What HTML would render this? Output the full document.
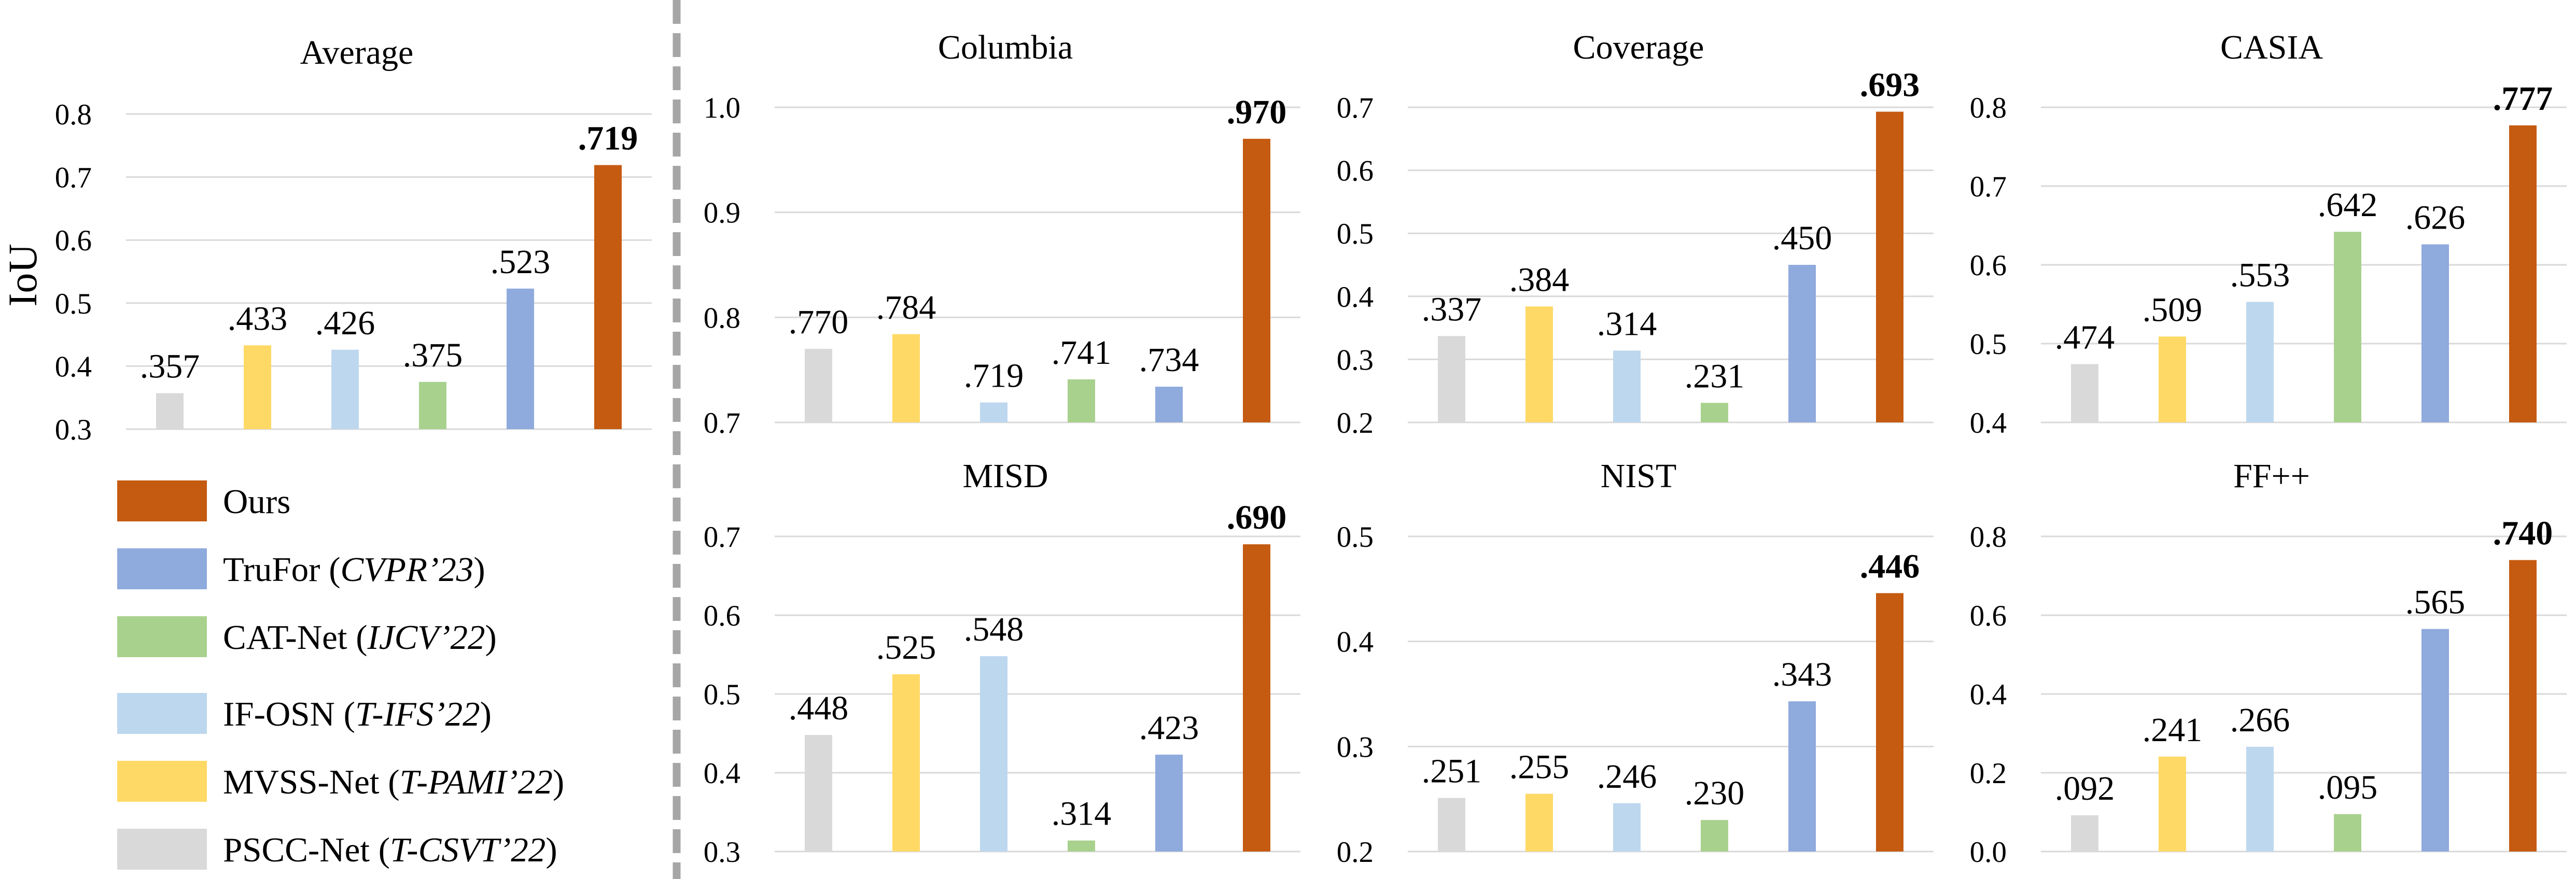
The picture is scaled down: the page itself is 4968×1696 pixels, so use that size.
<!DOCTYPE html>
<html><head><meta charset="utf-8"><style>
html,body{margin:0;padding:0;background:#fff;}
svg{display:block;font-family:"Liberation Serif","Times New Roman",serif;}
</style></head><body>
<svg id="fig" width="4968" height="1696" viewBox="0 0 4968 1696" xmlns="http://www.w3.org/2000/svg">
<line x1="1305" y1="0" x2="1305" y2="1696" stroke="#a6a6a6" stroke-width="15" stroke-dasharray="46,18"/>
<text x="0" y="0" font-size="78" transform="translate(70,531) rotate(-90)" text-anchor="middle">IoU</text>
<g>
<rect x="226" y="927" width="173" height="79" fill="#c55a11"/>
<text x="430" y="990" font-size="67">Ours</text>
<rect x="226" y="1058" width="173" height="79" fill="#8faadc"/>
<text x="430" y="1121" font-size="67">TruFor (<tspan font-style="italic">CVPR’23</tspan>)</text>
<rect x="226" y="1189" width="173" height="79" fill="#a9d18e"/>
<text x="430" y="1252" font-size="67">CAT-Net (<tspan font-style="italic">IJCV’22</tspan>)</text>
<rect x="226" y="1337" width="173" height="79" fill="#bdd7ee"/>
<text x="430" y="1400" font-size="67">IF-OSN (<tspan font-style="italic">T-IFS’22</tspan>)</text>
<rect x="226" y="1468" width="173" height="79" fill="#ffd966"/>
<text x="430" y="1531" font-size="67">MVSS-Net (<tspan font-style="italic">T-PAMI’22</tspan>)</text>
<rect x="226" y="1599" width="173" height="79" fill="#d9d9d9"/>
<text x="430" y="1662" font-size="67">PSCC-Net (<tspan font-style="italic">T-CSVT’22</tspan>)</text>
</g>
</svg>
<script>
const methods = ["PSCC-Net","MVSS-Net","IF-OSN","CAT-Net","TruFor","Ours"];
const colors = ["#d9d9d9","#ffd966","#bdd7ee","#a9d18e","#8faadc","#c55a11"];
const chartTitles = ["Average","Columbia","Coverage","CASIA","MISD","NIST","FF++"];
const avgValues = [0.357,0.433,0.426,0.375,0.523,0.719];
const columbiaValues = [0.770,0.784,0.719,0.741,0.734,0.970];
const coverageValues = [0.337,0.384,0.314,0.231,0.450,0.693];
const casiaValues = [0.474,0.509,0.553,0.642,0.626,0.777];
const misdValues = [0.448,0.525,0.548,0.314,0.423,0.690];
const nistValues = [0.251,0.255,0.246,0.230,0.343,0.446];
const ffValues = [0.092,0.241,0.266,0.095,0.565,0.740];
const avgTicks = [0.3,0.4,0.5,0.6,0.7,0.8];
const columbiaTicks = [0.7,0.8,0.9,1.0];
const coverageTicks = [0.2,0.3,0.4,0.5,0.6,0.7];
const casiaTicks = [0.4,0.5,0.6,0.7,0.8];
const misdTicks = [0.3,0.4,0.5,0.6,0.7];
const nistTicks = [0.2,0.3,0.4,0.5];
const ffTicks = [0.0,0.2,0.4,0.6,0.8];

const NS = "http://www.w3.org/2000/svg";
const svg = document.getElementById("fig");
function mk(tag, attrs, parent){
  const e = document.createElementNS(NS, tag);
  for (const k in attrs) e.setAttribute(k, attrs[k]);
  parent.appendChild(e);
  return e;
}
function fmt(v){ return v.toFixed(3).replace(/^0/,""); }
function slug(s){ return s.toLowerCase().replace(/[^a-z0-9]+/g,"-").replace(/-$/,""); }

const layouts = [
  {x0:243, top:220, bot:828, titleY:123},
  {x0:1494, top:207, bot:815, titleY:113},
  {x0:2715, top:207, bot:815, titleY:113},
  {x0:3936, top:207, bot:815, titleY:113},
  {x0:1494, top:1035, bot:1643, titleY:940},
  {x0:2715, top:1035, bot:1643, titleY:940},
  {x0:3936, top:1035, bot:1643, titleY:940}
];
const allValues = [avgValues,columbiaValues,coverageValues,casiaValues,misdValues,nistValues,ffValues];
const allTicks = [avgTicks,columbiaTicks,coverageTicks,casiaTicks,misdTicks,nistTicks,ffTicks];

layouts.forEach((L, ci) => {
  const vals = allValues[ci], ticks = allTicks[ci];
  const W = 1014, band = W / vals.length, bw = 53;
  const tmin = ticks[0], tmax = ticks[ticks.length-1];
  const y = v => L.bot - (v - tmin) / (tmax - tmin) * (L.bot - L.top);
  const x = i => L.x0 + (i + 0.5) * band;
  const g = mk("g", {}, svg);
  
  
  const t = mk("text", {x: L.x0 + W/2 - 62, y: L.titleY, "font-size": 66, "text-anchor": "middle"}, g);
  t.textContent = chartTitles[ci];
  
  
  ticks.forEach(tv => {
    const gl = mk("line", {x1: L.x0, x2: L.x0 + W, y1: y(tv), y2: y(tv), stroke: "#d9d9d9", "stroke-width": 3}, g);
    
    
    const tl = mk("text", {x: L.x0 - 66, y: y(tv) + 20, "font-size": 57, "text-anchor": "end"}, g);
    tl.textContent = tv.toFixed(1);
    
    
  });
  vals.forEach((v, i) => {
    const r = mk("rect", {x: x(i) - bw/2, y: y(v), width: bw, height: L.bot - y(v), fill: colors[i]}, g);
    
    
    const vl = mk("text", {x: x(i), y: y(v) - 30, "font-size": 66, "text-anchor": "middle"}, g);
    if (i === vals.length - 1) vl.setAttribute("font-weight", "bold");
    vl.textContent = fmt(v);
    
    
  });
});
</script>
</body></html>
